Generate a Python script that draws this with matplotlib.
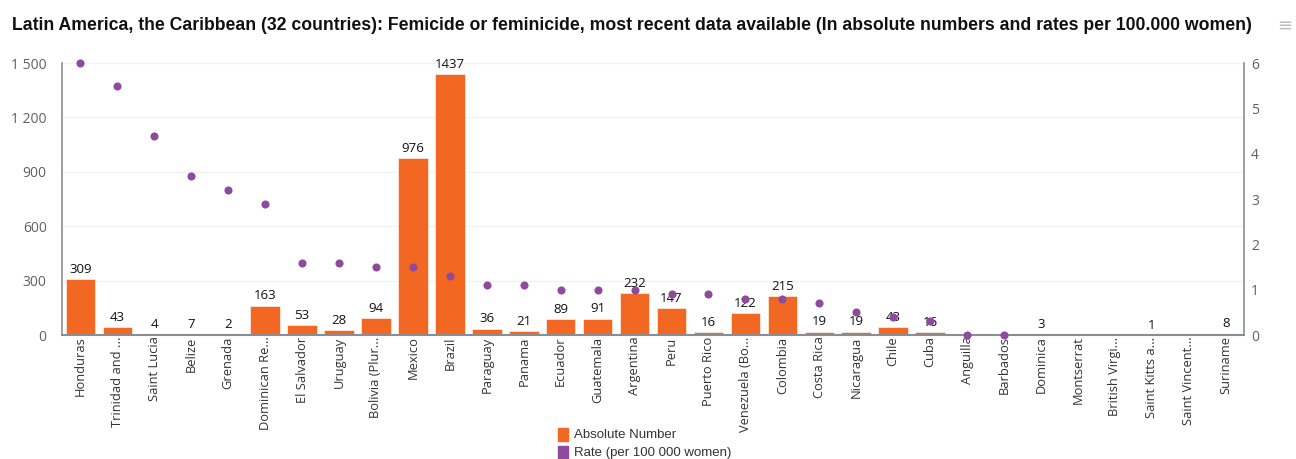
import numpy as np
import matplotlib
matplotlib.use("Agg")
import matplotlib.pyplot as plt
from matplotlib.patches import Rectangle

countries = [
    "Honduras", "Trinidad and ...", "Saint Lucia", "Belize", "Grenada",
    "Dominican Re...", "El Salvador", "Uruguay", "Bolivia (Plur...", "Mexico",
    "Brazil", "Paraguay", "Panama", "Ecuador", "Guatemala", "Argentina",
    "Peru", "Puerto Rico", "Venezuela (Bo...", "Colombia", "Costa Rica",
    "Nicaragua", "Chile", "Cuba", "Anguilla", "Barbados", "Dominica",
    "Montserrat", "British Virgi...", "Saint Kitts a...", "Saint Vincent...",
    "Suriname",
]
absolute_number = [
    309, 43, 4, 7, 2, 163, 53, 28, 94, 976, 1437, 36, 21, 89, 91, 232,
    147, 16, 122, 215, 19, 19, 43, 16, np.nan, np.nan, 3, np.nan, np.nan,
    1, np.nan, 8,
]
rate_per_100k = [
    6.0, 5.5, 4.4, 3.5, 3.2, 2.9, 1.6, 1.6, 1.5, 1.5, 1.3, 1.1, 1.1, 1.0,
    1.0, 1.0, 0.9, 0.9, 0.8, 0.8, 0.7, 0.5, 0.4, 0.3, 0.0, 0.0, np.nan,
    np.nan, np.nan, np.nan, np.nan, np.nan,
]
left_ticks = [0, 300, 600, 900, 1200, 1500]
left_tick_labels = ["0", "300", "600", "900", "1 200", "1 500"]
right_ticks = [0, 1, 2, 3, 4, 5, 6]

ORANGE = "#F26822"
PURPLE = "#8E4A9E"
AXIS_GREY = "#8A8D93"
TICK_GREY = "#606060"

plt.rcParams["font.family"] = ["Open Sans", "DejaVu Sans"]

fig = plt.figure(figsize=(12.96, 4.59), dpi=100)
ax = fig.add_axes([0.0478, 0.270, 0.9122, 0.5927])
ax2 = ax.twinx()

x = np.arange(len(countries))
ax.bar(x, absolute_number, width=0.8, color=ORANGE,
       edgecolor="white", linewidth=0.4, zorder=2)
for xi, v in zip(x, absolute_number):
    if not np.isnan(v):
        ax.text(xi, v + 18, f"{int(v)}", ha="center", va="bottom",
                fontsize=9.5, color="#111111", zorder=5)

ax2.scatter(x, rate_per_100k, s=34, color=PURPLE, zorder=4,
            clip_on=False, linewidths=0)

ax.set_xlim(-0.5, len(countries) - 0.5)
ax.set_ylim(0, 1500)
ax2.set_ylim(0, 6)

ax.set_yticks(left_ticks)
ax.set_yticklabels(left_tick_labels)
ax2.set_yticks(right_ticks)

ax.set_xticks(x)
ax.set_xticklabels(countries, rotation=90, fontsize=9.3, color="#333333")

for a in (ax, ax2):
    a.spines["top"].set_visible(False)
    a.tick_params(axis="y", length=0, labelsize=10, labelcolor=TICK_GREY)
ax.tick_params(axis="y", pad=11)
ax2.tick_params(axis="y", pad=5)
ax.tick_params(axis="x", length=0, pad=1)

ax.spines["left"].set_color(AXIS_GREY)
ax.spines["left"].set_linewidth(1.2)
ax.spines["right"].set_visible(False)
ax.spines["bottom"].set_color(AXIS_GREY)
ax.spines["bottom"].set_linewidth(1.5)
ax2.spines["left"].set_visible(False)
ax2.spines["bottom"].set_visible(False)
ax2.spines["right"].set_color(AXIS_GREY)
ax2.spines["right"].set_linewidth(1.2)

ax.yaxis.grid(True, color="#F2F2F2", linewidth=1.0, zorder=0)
ax.set_axisbelow(True)

fig.text(0.009, 0.945,
         "Latin America, the Caribbean (32 countries): Femicide or feminicide, "
         "most recent data available (In absolute numbers and rates per 100.000 women)",
         fontsize=12.7, fontweight="bold", color="#111111",
         family=["Liberation Sans", "DejaVu Sans"], va="center", ha="left")

# menu glyph in the corner
fig.text(0.9915, 0.945, "≡", fontsize=13, color="#BBBBBB", ha="center", va="center")

# legend
lx = 0.4305
for i, (label, col) in enumerate([("Absolute Number", ORANGE),
                                  ("Rate (per 100 000 women)", PURPLE)]):
    yy = 0.053 - i * 0.039
    fig.patches.append(Rectangle((lx, yy - 0.013), 0.0078, 0.027,
                                 transform=fig.transFigure, color=col))
    fig.text(lx + 0.0125, yy, label, fontsize=9.5, color="#333333",
             family=["Liberation Sans", "DejaVu Sans"], va="center")

fig.savefig("out.png", dpi=100, facecolor="white")
